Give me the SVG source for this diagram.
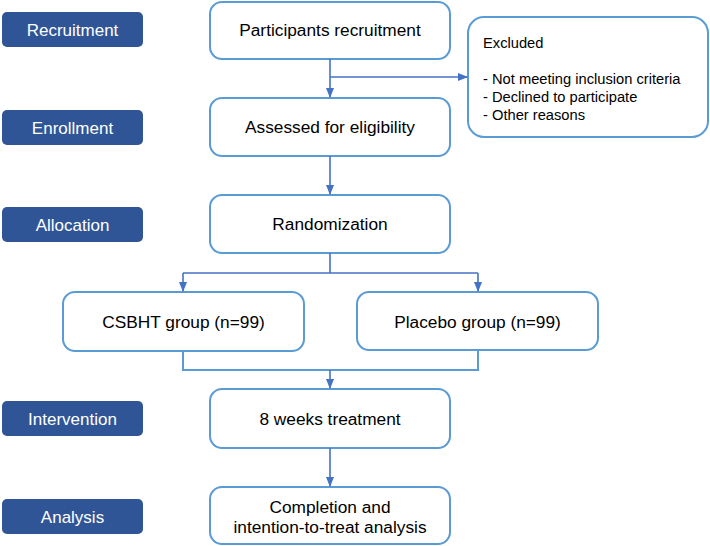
<svg xmlns="http://www.w3.org/2000/svg" width="710" height="546" viewBox="0 0 710 546">
<defs>
<marker id="ah" markerWidth="10" markerHeight="10" refX="9" refY="5" orient="auto" markerUnits="userSpaceOnUse">
<path d="M0,1 L10,5 L0,9 Z" fill="#4472C4"/>
</marker>
<style>
.stage rect{fill:#2F5597;}
.stage text{fill:#fff;font-family:"Liberation Sans",Arial,sans-serif;font-size:17px;text-anchor:middle;}
.node rect{fill:#fff;stroke:#5B9BD5;stroke-width:2;}
.node text{fill:#000;font-family:"Liberation Sans",Arial,sans-serif;font-size:17.3px;text-anchor:middle;}
.ex text{text-anchor:start;font-size:14.7px;}
.conn path{fill:none;stroke:#4472C4;stroke-width:1.6;}
.conn path.light{stroke:#5B9BD5;stroke-width:2;}
</style>
</defs>
<rect width="710" height="546" fill="#fff"/>
<g id="stage-recruitment" class="stage"><rect x="2" y="12" width="141" height="35" rx="5"/><text x="72.5" y="36">Recruitment</text></g>
<g id="stage-enrollment" class="stage"><rect x="2" y="110" width="141" height="35" rx="5"/><text x="72.5" y="134">Enrollment</text></g>
<g id="stage-allocation" class="stage"><rect x="2" y="207" width="141" height="35" rx="5"/><text x="72.5" y="231">Allocation</text></g>
<g id="stage-intervention" class="stage"><rect x="2" y="401" width="141" height="35" rx="5"/><text x="72.5" y="425">Intervention</text></g>
<g id="stage-analysis" class="stage"><rect x="2" y="499" width="141" height="35" rx="5"/><text x="72.5" y="523">Analysis</text></g>

<g id="participants" class="node"><rect x="210" y="2" width="240" height="57" rx="12"/><text x="330" y="36">Participants recruitment</text></g>
<g id="excluded" class="node ex"><rect x="468" y="17" width="240" height="120" rx="16"/>
<text x="483" y="48">Excluded</text>
<text x="483" y="84">- Not meeting inclusion criteria</text>
<text x="483" y="102">- Declined to participate</text>
<text x="483" y="120">- Other reasons</text></g>
<g id="assessed" class="node"><rect x="210" y="98" width="240" height="58" rx="12"/><text x="330" y="133">Assessed for eligibility</text></g>
<g id="randomization" class="node"><rect x="210" y="195" width="240" height="58" rx="12"/><text x="330" y="230">Randomization</text></g>
<g id="csbht" class="node"><rect x="63" y="292" width="241" height="59" rx="12"/><text x="183.5" y="328">CSBHT group (n=99)</text></g>
<g id="placebo" class="node"><rect x="357" y="292" width="241" height="58" rx="12"/><text x="477.5" y="328">Placebo group (n=99)</text></g>
<g id="treatment" class="node"><rect x="210" y="389" width="240" height="59" rx="12"/><text x="330" y="425">8 weeks treatment</text></g>
<g id="completion" class="node"><rect x="210" y="487" width="240" height="57" rx="12"/><text x="330" y="513">Completion and</text><text x="330" y="533">intention-to-treat analysis</text></g>

<g id="connectors" class="conn">
<path d="M330,59 V97" marker-end="url(#ah)"/>
<path d="M330,77 H467" marker-end="url(#ah)"/>
<path d="M330,156 V194" marker-end="url(#ah)"/>
<path d="M330,253 V273"/>
<path d="M183,273 H478"/>
<path d="M183,273 V291" marker-end="url(#ah)"/>
<path d="M478,273 V291" marker-end="url(#ah)"/>
<path class="light" d="M183,351 V370 H478 V350"/>
<path d="M330,370 V388" marker-end="url(#ah)"/>
<path d="M330,448 V486" marker-end="url(#ah)"/>
</g>
</svg>
